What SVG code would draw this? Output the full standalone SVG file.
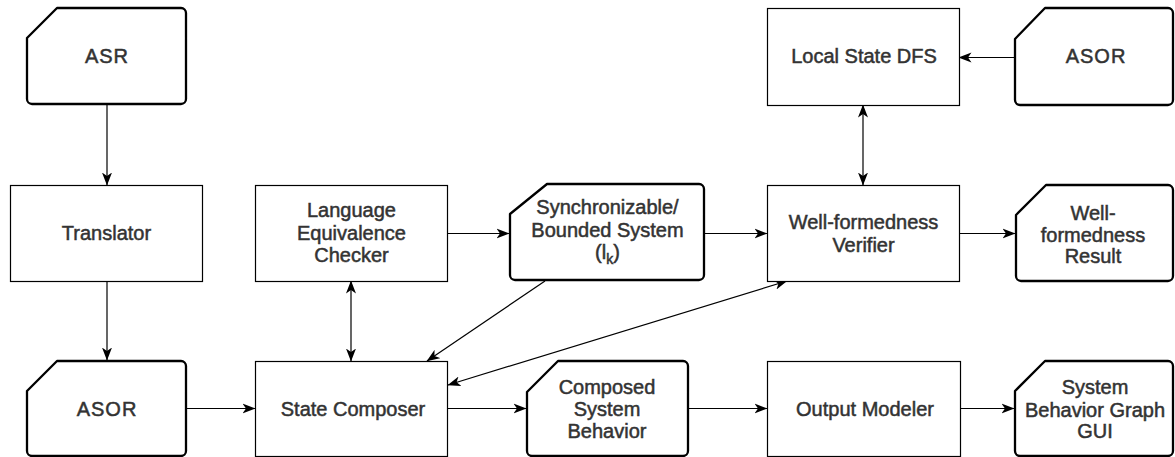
<svg xmlns="http://www.w3.org/2000/svg" width="1175" height="457" viewBox="0 0 1175 457">
<style>
.box{fill:#fff;stroke:#000;stroke-width:1.2}
.card{fill:#fff;stroke:#000;stroke-width:2.3;stroke-linejoin:round}
.t{font-family:"Liberation Sans",Arial,Helvetica,sans-serif;font-size:20px;fill:#333;text-anchor:middle;stroke:#333;stroke-width:0.5}
.ls{letter-spacing:1px}
.c{fill:none;stroke:#000;stroke-width:1.2}
.a{marker-end:url(#ah)}
.b{marker-start:url(#ah);marker-end:url(#ah)}
</style>
<defs>
<marker id="ah" markerUnits="userSpaceOnUse" viewBox="0 0 13 11" refX="12.5" refY="5.5" markerWidth="13" markerHeight="11" orient="auto-start-reverse">
<path d="M0,0.5 L13,5.5 L0,10.5 L3.5,5.5 Z" fill="#000"/>
</marker>
</defs>
<rect width="1175" height="457" fill="#fff"/>

<g id="connectors">
<line class="c a" x1="107" y1="105" x2="107" y2="185"/>
<line class="c a" x1="107" y1="281" x2="107" y2="360"/>
<line class="c a" x1="187" y1="408.5" x2="255" y2="408.5"/>
<line class="c b" x1="351" y1="361" x2="351" y2="281"/>
<line class="c a" x1="447" y1="233.5" x2="509" y2="233.5"/>
<line class="c a" x1="705" y1="233.5" x2="767" y2="233.5"/>
<line class="c a" x1="959" y1="233.5" x2="1015" y2="233.5"/>
<line class="c a" x1="1014" y1="57.5" x2="959" y2="57.5"/>
<line class="c b" x1="863" y1="105" x2="863" y2="185"/>
<line class="c a" x1="545" y1="281" x2="427" y2="361"/>
<line class="c b" x1="787" y1="281" x2="448" y2="385"/>
<line class="c a" x1="447" y1="408.5" x2="526" y2="408.5"/>
<line class="c a" x1="689" y1="408.5" x2="767" y2="408.5"/>
<line class="c a" x1="960" y1="408.5" x2="1014" y2="408.5"/>
</g>

<g id="asr">
<path class="card" d="M57,8 H181 A5,5 0 0 1 186,13 V99 A5,5 0 0 1 181,104 H32 A5,5 0 0 1 27,99 V38 Z"/>
<text class="t ls" x="107" y="63">ASR</text>
</g>

<g id="translator">
<rect class="box" x="10.5" y="185.5" width="192" height="96"/>
<text class="t" x="106.5" y="240">Translator</text>
</g>

<g id="asor-bottom">
<path class="card" d="M57,361 H181 A5,5 0 0 1 186,366 V451 A5,5 0 0 1 181,456 H32 A5,5 0 0 1 27,451 V391 Z"/>
<text class="t ls" x="107" y="416">ASOR</text>
</g>

<g id="lec">
<rect class="box" x="255.5" y="185.5" width="192" height="96"/>
<text class="t" x="351.5" y="217">Language</text>
<text class="t" x="351.5" y="239.5">Equivalence</text>
<text class="t" x="351.5" y="262">Checker</text>
</g>

<g id="state-composer">
<rect class="box" x="255.5" y="361.5" width="192" height="95"/>
<text class="t" x="353" y="416">State Composer</text>
</g>

<g id="sync">
<path class="card" d="M547,184 H699 A5,5 0 0 1 704,189 V275 A5,5 0 0 1 699,280 H515 A5,5 0 0 1 510,275 V214 Z"/>
<text class="t" x="607.5" y="214">Synchronizable/</text>
<text class="t" x="607.5" y="237">Bounded System</text>
<text class="t" x="607.5" y="259">(l<tspan font-size="14" dy="5">k</tspan><tspan dy="-5">)</tspan></text>
</g>

<g id="composed">
<path class="card" d="M558,361 H683 A5,5 0 0 1 688,366 V451 A5,5 0 0 1 683,456 H532 A5,5 0 0 1 527,451 V392 Z"/>
<text class="t" x="607" y="394">Composed</text>
<text class="t" x="607" y="416">System</text>
<text class="t" x="607" y="438">Behavior</text>
</g>

<g id="local-state-dfs">
<rect class="box" x="767.5" y="8.5" width="192" height="97"/>
<text class="t" x="864" y="63">Local State DFS</text>
</g>

<g id="asor-top">
<path class="card" d="M1045,8 H1168 A5,5 0 0 1 1173,13 V100 A5,5 0 0 1 1168,105 H1020 A5,5 0 0 1 1015,100 V39 Z"/>
<text class="t ls" x="1096" y="63">ASOR</text>
</g>

<g id="wfv">
<rect class="box" x="767.5" y="185.5" width="192" height="96"/>
<text class="t" x="863.5" y="229">Well-formedness</text>
<text class="t" x="863.5" y="252">Verifier</text>
</g>

<g id="wfr">
<path class="card" d="M1046,185 H1168 A5,5 0 0 1 1173,190 V276 A5,5 0 0 1 1168,281 H1021 A5,5 0 0 1 1016,276 V215 Z"/>
<text class="t" x="1093" y="220">Well-</text>
<text class="t" x="1093" y="241.5">formedness</text>
<text class="t" x="1093" y="263">Result</text>
</g>

<g id="output-modeler">
<rect class="box" x="767.5" y="361.5" width="193" height="95"/>
<text class="t" x="865" y="416">Output Modeler</text>
</g>

<g id="sbg-gui">
<path class="card" d="M1045,361 H1168 A5,5 0 0 1 1173,366 V451 A5,5 0 0 1 1168,456 H1020 A5,5 0 0 1 1015,451 V391 Z"/>
<text class="t" x="1095" y="394">System</text>
<text class="t" x="1095" y="417">Behavior Graph</text>
<text class="t" x="1095" y="438">GUI</text>
</g>
</svg>
